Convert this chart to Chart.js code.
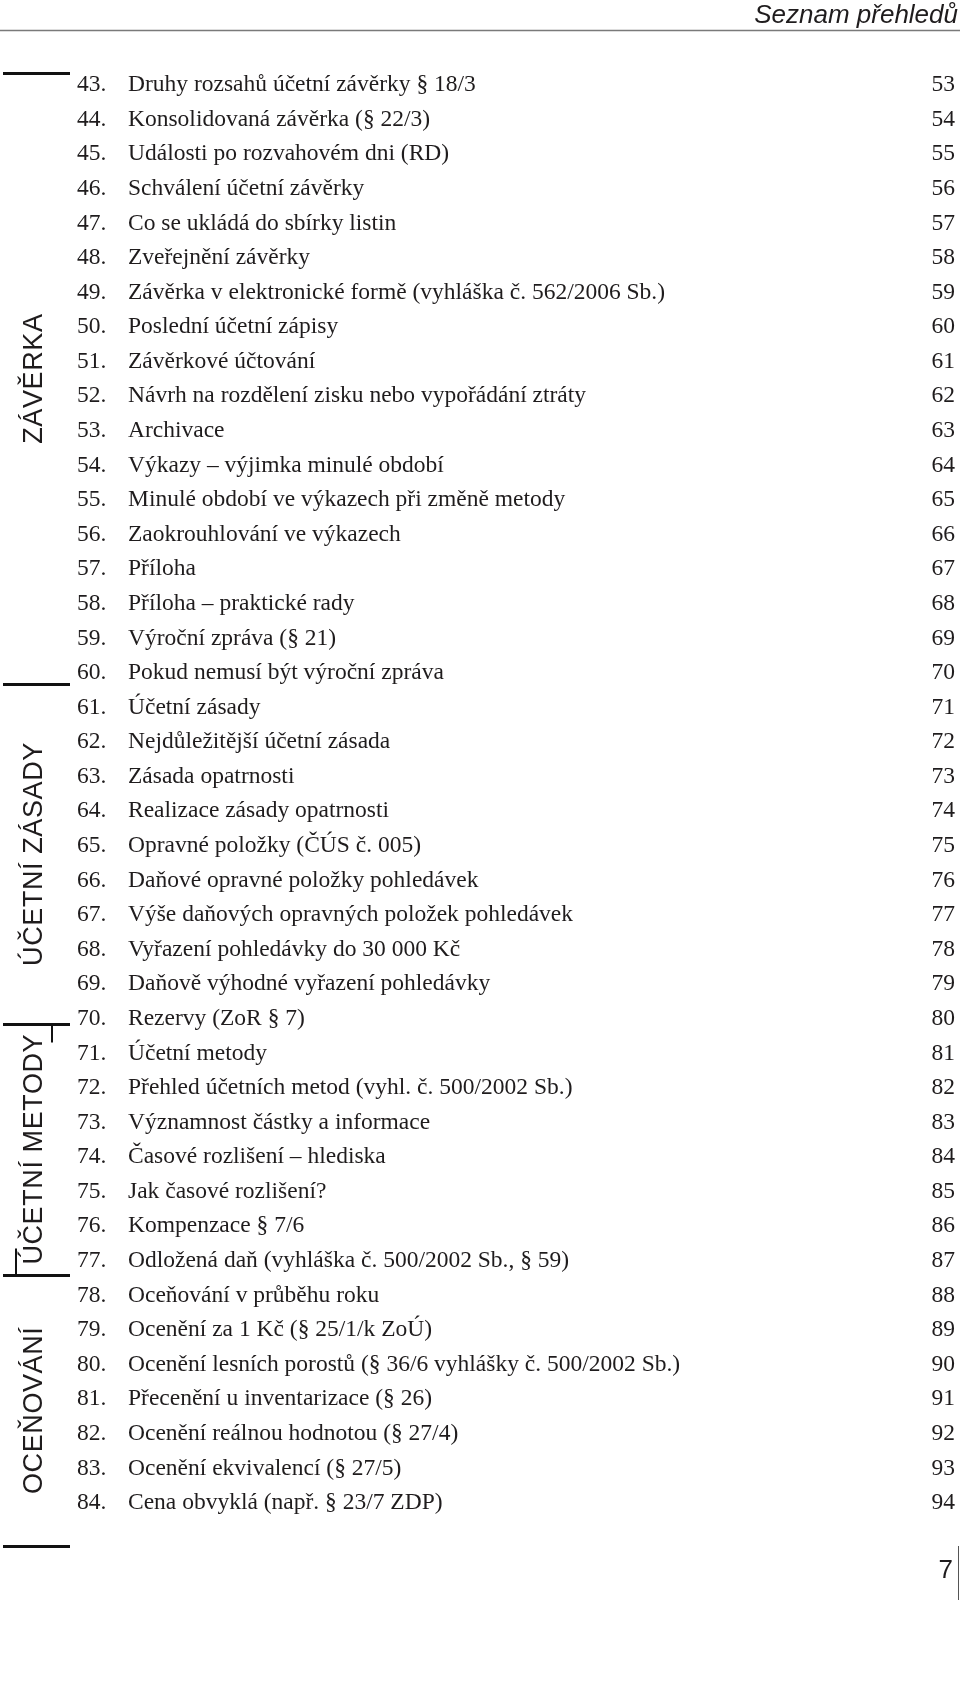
<!DOCTYPE html>
<html>
<head>
<meta charset="utf-8">
<script src="https://cdn.jsdelivr.net/npm/chart.js@4.4.1/dist/chart.umd.min.js"></script>
<style>
html,body{margin:0;padding:0;background:#fff;}
canvas{display:block;}
</style>
</head>
<body>
<canvas id="toc" width="960" height="1701"></canvas>
<script>
const nums = ['43.','44.','45.','46.','47.','48.','49.','50.','51.','52.','53.','54.','55.','56.',
  '57.','58.','59.','60.','61.','62.','63.','64.','65.','66.','67.','68.','69.','70.',
  '71.','72.','73.','74.','75.','76.','77.','78.','79.','80.','81.','82.','83.','84.'];

const titles = [
  'Druhy rozsahů účetní závěrky § 18/3',
  'Konsolidovaná závěrka (§ 22/3)',
  'Události po rozvahovém dni (RD)',
  'Schválení účetní závěrky',
  'Co se ukládá do sbírky listin',
  'Zveřejnění závěrky',
  'Závěrka v elektronické formě (vyhláška č. 562/2006 Sb.)',
  'Poslední účetní zápisy',
  'Závěrkové účtování',
  'Návrh na rozdělení zisku nebo vypořádání ztráty',
  'Archivace',
  'Výkazy – výjimka minulé období',
  'Minulé období ve výkazech při změně metody',
  'Zaokrouhlování ve výkazech',
  'Příloha',
  'Příloha – praktické rady',
  'Výroční zpráva (§ 21)',
  'Pokud nemusí být výroční zpráva',
  'Účetní zásady',
  'Nejdůležitější účetní zásada',
  'Zásada opatrnosti',
  'Realizace zásady opatrnosti',
  'Opravné položky (ČÚS č. 005)',
  'Daňové opravné položky pohledávek',
  'Výše daňových opravných položek pohledávek',
  'Vyřazení pohledávky do 30 000 Kč',
  'Daňově výhodné vyřazení pohledávky',
  'Rezervy (ZoR § 7)',
  'Účetní metody',
  'Přehled účetních metod (vyhl. č. 500/2002 Sb.)',
  'Významnost částky a informace',
  'Časové rozlišení – hlediska',
  'Jak časové rozlišení?',
  'Kompenzace § 7/6',
  'Odložená daň (vyhláška č. 500/2002 Sb., § 59)',
  'Oceňování v průběhu roku',
  'Ocenění za 1 Kč (§ 25/1/k ZoÚ)',
  'Ocenění lesních porostů (§ 36/6 vyhlášky č. 500/2002 Sb.)',
  'Přecenění u inventarizace (§ 26)',
  'Ocenění reálnou hodnotou (§ 27/4)',
  'Ocenění ekvivalencí (§ 27/5)',
  'Cena obvyklá (např. § 23/7 ZDP)'
];

const pages = ['53','54','55','56','57','58','59','60','61','62','63','64','65','66',
  '67','68','69','70','71','72','73','74','75','76','77','78','79','80',
  '81','82','83','84','85','86','87','88','89','90','91','92','93','94'];

// side tabs and the rules between them (rule positions in row units)
const sections = ['ZÁVĚRKA','ÚČETNÍ ZÁSADY','ÚČETNÍ METODY','OCEŇOVÁNÍ'];
const ruleRows = [-0.35, 17.33, 27.14, 34.40, 42.24];

const header = 'Seznam přehledů';
const folio = '7';

const ink = '#1f1c1d';
const serif = {family:'"Liberation Serif", "Times New Roman", serif', size:23.5};

/* extra drawing: header, side tabs, folio */
const pagePlugin = {
  id:'pageDeco',
  afterDraw(chart){
    const ctx = chart.ctx;
    const y = chart.scales.y;
    const ry = r => Math.round(y.getPixelForValue(r)) + 0.5;
    ctx.save();

    // header
    ctx.fillStyle = ink;
    ctx.font = 'italic 26px "Liberation Sans", Arial, sans-serif';
    ctx.textAlign = 'right';
    ctx.textBaseline = 'alphabetic';
    ctx.fillText(header, 958, 23);
    ctx.strokeStyle = '#7a7a7a';
    ctx.lineWidth = 1.5;
    ctx.beginPath(); ctx.moveTo(0, 30.5); ctx.lineTo(960, 30.5); ctx.stroke();

    // tab rules
    ctx.strokeStyle = '#111';
    ctx.lineWidth = 3;
    ruleRows.forEach(r=>{
      ctx.beginPath(); ctx.moveTo(3, ry(r)); ctx.lineTo(70, ry(r)); ctx.stroke();
    });
    // small bracket ticks round the "účetní metody" tab
    ctx.lineWidth = 2;
    ctx.beginPath(); ctx.moveTo(52, ry(ruleRows[2])); ctx.lineTo(52, ry(ruleRows[2]) + 18); ctx.stroke();
    ctx.beginPath(); ctx.moveTo(16, ry(ruleRows[3]) - 27); ctx.lineTo(16, ry(ruleRows[3])); ctx.stroke();

    // tab labels, rotated
    ctx.font = '27px "Liberation Sans", Arial, sans-serif';
    ctx.letterSpacing = '0.6px';
    ctx.textAlign = 'center';
    ctx.textBaseline = 'middle';
    sections.forEach((s,i)=>{
      const cy = (y.getPixelForValue(ruleRows[i]) + y.getPixelForValue(ruleRows[i+1])) / 2;
      ctx.save();
      ctx.translate(34, cy);
      ctx.rotate(-Math.PI/2);
      ctx.fillText(s, 0, 1);
      ctx.restore();
    });
    ctx.letterSpacing = '0px';

    // folio
    ctx.font = '26px "Liberation Sans", Arial, sans-serif';
    ctx.textAlign = 'right';
    ctx.textBaseline = 'alphabetic';
    ctx.fillText(folio, 953, 1578);
    ctx.strokeStyle = '#555';
    ctx.lineWidth = 1;
    ctx.beginPath(); ctx.moveTo(958.5, 1546); ctx.lineTo(958.5, 1600); ctx.stroke();

    ctx.restore();
  }
};

const rowAxis = (labels, position, weight, width) => ({
  type:'category',
  labels,
  position,
  weight,
  offset:false,
  grid:{display:false, drawTicks:false},
  border:{display:false},
  ticks:{autoSkip:false, crossAlign:'far', padding:0, color:ink, font:serif},
  afterFit(s){ s.width = width; }
});

new Chart(document.getElementById('toc'), {
  type:'line',
  data:{labels:[], datasets:[]},
  options:{
    responsive:false,
    animation:false,
    events:[],
    layout:{padding:{left:77, right:5, top:85, bottom:198}},
    plugins:{legend:{display:false}, tooltip:{enabled:false}},
    scales:{
      x:{display:false},
      yNum:rowAxis(nums, 'left', 2, 51),
      y:rowAxis(titles, 'left', 1, 560),
      yPage:rowAxis(pages, 'right', 1, 40)
    }
  },
  plugins:[pagePlugin]
});
</script>
</body>
</html>
